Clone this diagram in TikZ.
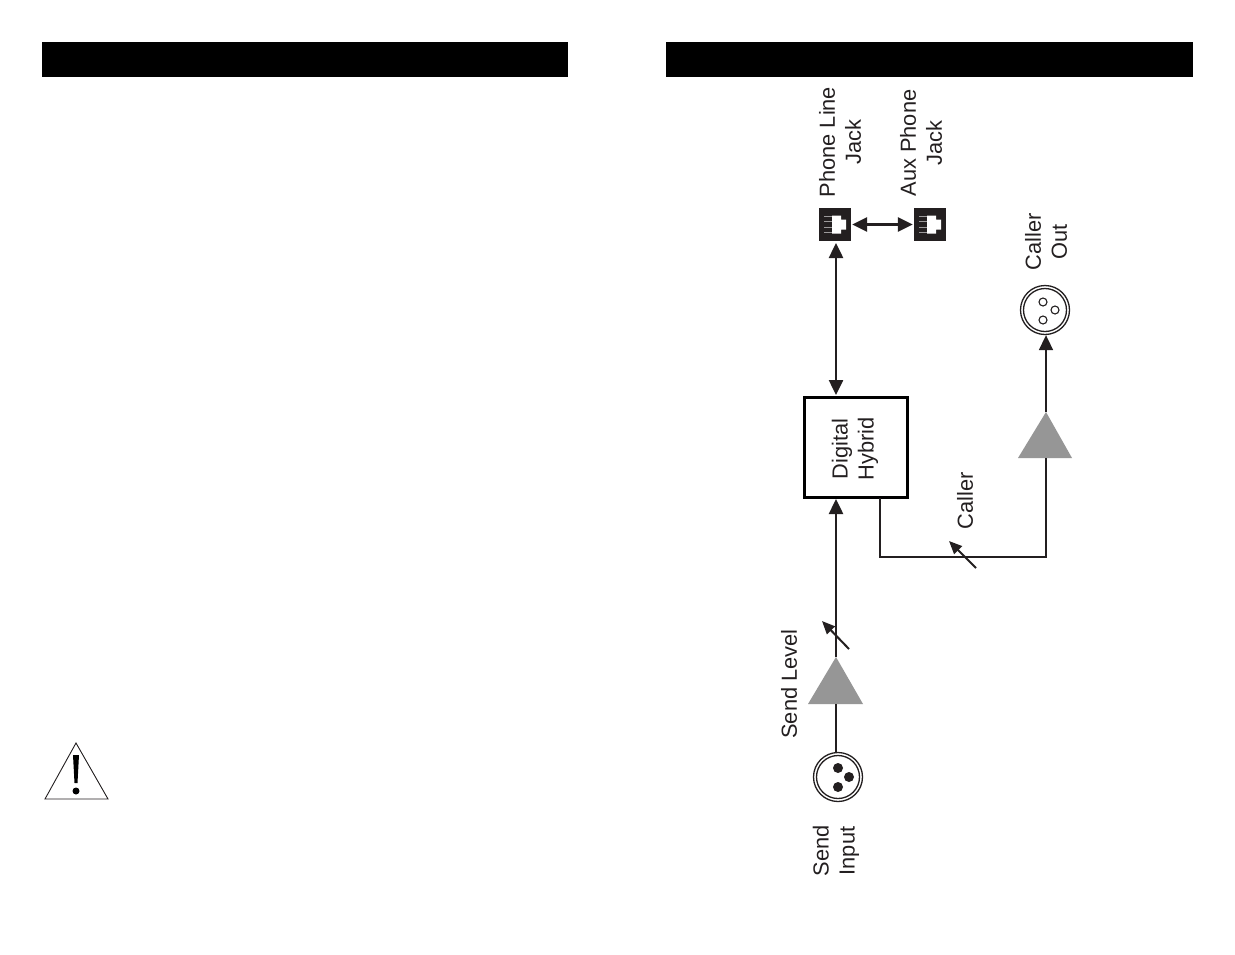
\documentclass[tikz,border=0pt]{standalone}
\usepackage{fontspec}
\setmainfont{Liberation Sans}
\usetikzlibrary{arrows.meta}
\definecolor{ink}{HTML}{231F20}
\definecolor{amp}{HTML}{969696}
\tikzset{
  lbl/.style={rotate=90,align=center,text=ink,inner sep=0pt,font=\fontsize{21.8}{26}\selectfont},
  bar/.style={fill=black,draw=none},
  jack/.style={rectangle,fill=ink,draw=none,minimum width=32pt,minimum height=33pt,inner sep=0pt},
  hybrid/.style={rectangle,draw=black,line width=3pt,fill=white,minimum width=103pt,minimum height=100pt,inner sep=0pt},
  xlr/.style={circle,draw=ink,line width=1.3pt,fill=white,minimum size=49pt,inner sep=0pt},
  wire/.style={draw=ink,line width=2.5pt},
  thinwire/.style={draw=ink,line width=1.7pt},
  headed/.style={-{Triangle[length=15pt,width=14pt]}},
  twohead/.style={{Triangle[length=15pt,width=14pt]}-{Triangle[length=15pt,width=14pt]}},
  knob/.style={draw=ink,line width=2pt,-{Triangle[length=13pt,width=11pt]}},
  ampfill/.style={fill=amp,draw=none},
  pinon/.style={circle,fill=ink,draw=none,minimum size=10pt,inner sep=0pt},
  pinoff/.style={circle,fill=white,draw=ink,line width=1.1pt,minimum size=8pt,inner sep=0pt},
}
\newcommand{\jackglyph}[1]{%
  \fill[white] ([shift={(-3,-9)}]#1.center) -- ([shift={(6,-9)}]#1.center) -- ([shift={(6,-5)}]#1.center) -- ([shift={(11,-5)}]#1.center) -- ([shift={(11,5)}]#1.center) -- ([shift={(6,5)}]#1.center) -- ([shift={(6,9)}]#1.center) -- ([shift={(-3,9)}]#1.center) -- cycle;
  \foreach \d in {-8,-3,3,8} \draw[white!55!ink,line width=.5pt] ([shift={(-11,\d)}]#1.center) -- ([shift={(-3,\d)}]#1.center);
}
\begin{document}
\begin{tikzpicture}[x=1pt,y=-1pt]
\path[use as bounding box,fill=white] (0,0) rectangle (1235,954);
\fill[bar] (42,42) rectangle (568,77);
\fill[bar] (666,42) rectangle (1193,77);
% warning sign
\coordinate (warnA) at (76,743);
\coordinate (warnB) at (108,799);
\coordinate (warnC) at (45,799);
\draw[ink,line width=.9pt,line join=miter] (warnA) -- (warnB) -- (warnC) -- cycle;
\fill[black] (73,755) -- (79,755) -- (77.5,783) -- (74.5,783) -- cycle;
\fill[black] (76,791) circle (3.5);
% jacks
\node[jack] (phone) at (835,224.5) {};
\node[jack] (aux) at (930,224.5) {};
\jackglyph{phone}
\jackglyph{aux}
\node[lbl] (phoneL) at (840,142) {Phone Line\\Jack};
\node[lbl] (auxL) at (921,143) {Aux Phone\\Jack};
% hybrid
\node[hybrid] (dh) at (855.5,447) {};
\node[lbl] (dhL) at (855,449) {Digital\\Hybrid};
% XLRs
\node[xlr] (callerOut) at (1045,310) {};
\draw[ink,line width=1.3pt] (callerOut.center) circle (21.5);
\node[pinoff] at (1043,302) {};
\node[pinoff] at (1055,310) {};
\node[pinoff] at (1043,320) {};
\node[xlr] (sendIn) at (838,777) {};
\draw[ink,line width=1.3pt] (sendIn.center) circle (21.5);
\node[pinon] at (838,768) {};
\node[pinon] at (849,777) {};
\node[pinon] at (838,787) {};
\node[lbl] (callerOutL) at (1046,242) {Caller\\Out};
\node[lbl] (sendInL) at (836,851) {Send\\Input};
\node[lbl] (sendLevelL) at (789,684) {Send Level};
\node[lbl] (callerL) at (965,501) {Caller};
% amps
\coordinate (sendApex) at (836,657);
\coordinate (sendBase) at (836,704);
\coordinate (callApex) at (1046,412);
\coordinate (callBase) at (1046,458);
\coordinate (callElbowA) at (880,557);
\coordinate (callElbowB) at (1046,557);
\fill[ampfill] (sendApex) -- (863,704) -- (808,704) -- cycle;
\fill[ampfill] (callApex) -- (1072,458) -- (1018,458) -- cycle;
% connectors
\draw[wire,twohead] (836,243) -- (836,395);
\draw[wire,twohead,line width=3pt] ([xshift=1pt]phone.east) -- ([xshift=-1pt]aux.west);
\draw[wire] (sendIn.north -| sendBase) -- (sendBase);
\draw[wire,headed] (sendApex) -- (836,499);
\draw[thinwire] (880,498) -- (callElbowA) -- (callElbowB) -- (callBase);
\draw[thinwire,headed] (callApex) -- (callerOut.south -| callApex);
% level knobs
\coordinate (knobAs) at (849,649);
\coordinate (knobAe) at (822,621);
\coordinate (knobBs) at (976,568);
\coordinate (knobBe) at (949,541);
\draw[knob] (knobAs) -- (knobAe);
\draw[knob] (knobBs) -- (knobBe);
\end{tikzpicture}
\end{document}
